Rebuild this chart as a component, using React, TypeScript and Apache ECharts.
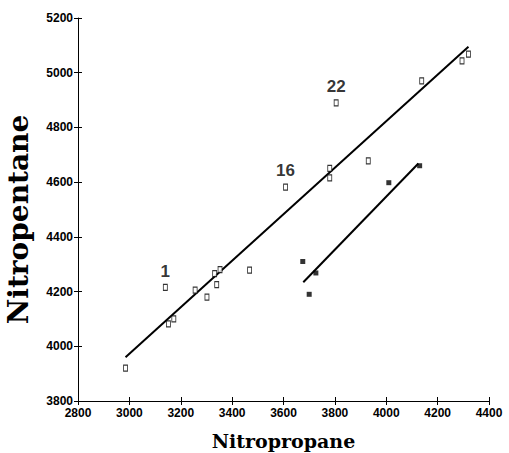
import React, { useEffect, useRef } from "react";
import * as echarts from "echarts";

const openX = [2985, 3140, 3152, 3173, 3256, 3302, 3332, 3340, 3353, 3468, 3608, 3780, 3780, 3805, 3930, 4138, 4295, 4320];
const openY = [3920, 4215, 4082, 4100, 4205, 4180, 4266, 4225, 4280, 4278, 4582, 4650, 4616, 4890, 4678, 4970, 5043, 5068];
const openLabels = ["", "1", "", "", "", "", "", "", "", "", "16", "", "", "22", "", "", "", ""];

const filledX = [3675, 3700, 3726, 4010, 4130];
const filledY = [4310, 4190, 4268, 4598, 4660];

const line1X = [2985, 4320];
const line1Y = [3960, 5095];
const line2X = [3677, 4125];
const line2Y = [4234, 4668];

const xTitle = "Nitropropane";
const yTitle = "Nitropentane";

const tickFont = {
  fontFamily: "'Liberation Sans', Arial, sans-serif",
  fontWeight: "bold" as const,
  fontSize: 12,
  color: "#000",
  formatter: (v: number) => String(v),
};

export default function App() {
  const ref = useRef<HTMLDivElement>(null);
  useEffect(() => {
    if (!ref.current) return;
    const chart = echarts.init(ref.current, null, { renderer: "svg" });
    const axisBase = {
      type: "value" as const,
      splitLine: { show: false },
      axisLine: { show: true, onZero: false, lineStyle: { color: "#000", width: 1 } },
    };
    chart.setOption({
      animation: false,
      backgroundColor: "#fff",
      grid: { left: 78, right: 20, top: 18, bottom: 52, containLabel: false, outerBoundsMode: "none" },
      xAxis: [
        {
          ...axisBase,
          min: 2800,
          max: 4400,
          interval: 200,
          position: "bottom",
          axisTick: { show: true, length: 4, lineStyle: { color: "#000" } },
          axisLabel: { ...tickFont, margin: 6 },
          name: xTitle,
          nameLocation: "middle",
          nameGap: 30,
          nameTextStyle: { fontFamily: "'DejaVu Serif', serif", fontWeight: "bold", fontSize: 19, color: "#000" },
        },
        {
          ...axisBase,
          min: 2800,
          max: 4400,
          interval: 200,
          position: "bottom",
          offset: 0,
          axisLine: { show: false },
          axisTick: { show: true, inside: true, length: 4, lineStyle: { color: "#000" } },
          axisLabel: { show: false },
        },
      ],
      yAxis: [
        {
          ...axisBase,
          min: 3800,
          max: 5200,
          interval: 200,
          position: "left",
          axisTick: { show: true, length: 4, lineStyle: { color: "#000" } },
          axisLabel: { ...tickFont, margin: 5 },
          name: yTitle,
          nameLocation: "middle",
          nameGap: 46,
          nameRotate: 90,
          nameTextStyle: { fontFamily: "'DejaVu Serif', serif", fontWeight: "bold", fontSize: 28, color: "#000", padding: [0, 20, 0, 0] },
        },
        {
          ...axisBase,
          min: 3800,
          max: 5200,
          interval: 200,
          position: "left",
          offset: 0,
          axisLine: { show: false },
          axisTick: { show: true, inside: true, length: 4, lineStyle: { color: "#000" } },
          axisLabel: { show: false },
        },
      ],
      series: [
        {
          type: "line",
          data: line1X.map((x, i) => [x, line1Y[i]]),
          showSymbol: false,
          lineStyle: { color: "#000", width: 2 },
          silent: true,
        },
        {
          type: "line",
          data: line2X.map((x, i) => [x, line2Y[i]]),
          showSymbol: false,
          lineStyle: { color: "#000", width: 2 },
          silent: true,
        },
        {
          type: "scatter",
          symbol: "rect",
          symbolSize: [4, 6],
          itemStyle: { color: "#fff", borderColor: "#000", borderWidth: 1 },
          label: {
            show: false,
            position: "top",
            distance: 4,
            fontFamily: "'Liberation Sans', Arial, sans-serif",
            fontWeight: "bold",
            fontSize: 17,
            color: "#000",
          },
          data: openX.map((x, i) => ({
            value: [x, openY[i]],
            label: { show: !!openLabels[i], formatter: openLabels[i] || "" },
          })),
          z: 3,
        },
        {
          type: "scatter",
          symbol: "rect",
          symbolSize: [5, 5],
          itemStyle: { color: "#000" },
          data: filledX.map((x, i) => [x, filledY[i]]),
          z: 3,
        },
      ],
    });
    return () => chart.dispose();
  }, []);
  return <div ref={ref} style={{ width: 509, height: 453, position: "absolute", left: 0, top: 0 }} />;
}
